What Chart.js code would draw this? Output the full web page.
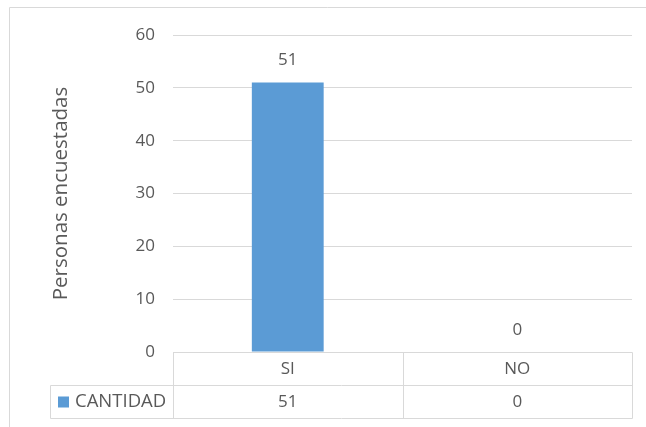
<!DOCTYPE html>
<html>
<head>
<meta charset="utf-8">
<script src="https://cdn.jsdelivr.net/npm/chart.js@4/dist/chart.umd.min.js"></script>
<style>
  html, body { margin: 0; padding: 0; background: #fff; }
  #wrap { width: 646px; height: 427px; position: relative; }
</style>
</head>
<body>
<div id="wrap"><canvas id="grafico"></canvas></div>
<script>
const categorias = ['SI', 'NO'];
const cantidad = [51, 0];
const serie = 'CANTIDAD';
const ticksY = [0, 10, 20, 30, 40, 50, 60];

const gris = '#595959';
const linea = '#d9d9d9';
const azul = '#5b9bd5';
const fuente = '"Open Sans", sans-serif';

// borde del grafico y tabla de datos abajo
const tablaDatos = {
    id: 'tablaDatos',
    beforeDraw(chart) {
        const ctx = chart.ctx;
        ctx.save();
        ctx.strokeStyle = linea;
        ctx.lineWidth = 1;
        ctx.beginPath();
        ctx.moveTo(9.5, 427);
        ctx.lineTo(9.5, 7.5);
        ctx.lineTo(646, 7.5);
        ctx.stroke();
        ctx.restore();
    },
    afterDraw(chart) {
        const ctx = chart.ctx;
        const x = chart.scales.x;
        const area = chart.chartArea;
        const fila = 33;
        const y0 = Math.round(area.bottom) + 0.5;
        const y1 = y0 + fila;
        const y2 = y1 + fila;
        const izq = Math.round(area.left) + 0.5;
        const der = Math.round(area.right) + 0.5;
        const leyIzq = 50.5;
        const mitad = Math.round((x.getPixelForValue(0) + x.getPixelForValue(1)) / 2) + 0.5;

        ctx.save();
        ctx.strokeStyle = linea;
        ctx.lineWidth = 1;
        ctx.beginPath();
        ctx.moveTo(izq, y0); ctx.lineTo(der, y0);
        ctx.moveTo(leyIzq, y1); ctx.lineTo(der, y1);
        ctx.moveTo(leyIzq, y2); ctx.lineTo(der, y2);
        ctx.moveTo(izq, y0); ctx.lineTo(izq, y2);
        ctx.moveTo(mitad, y0); ctx.lineTo(mitad, y2);
        ctx.moveTo(der, y0); ctx.lineTo(der, y2);
        ctx.moveTo(leyIzq, y1); ctx.lineTo(leyIzq, y2);
        ctx.stroke();

        ctx.fillStyle = gris;
        ctx.font = '17px ' + fuente;
        ctx.textAlign = 'center';
        ctx.textBaseline = 'middle';
        categorias.forEach((c, i) => {
            const px = x.getPixelForValue(i);
            ctx.fillText(c, px, y0 + fila / 2);
            ctx.fillText(String(cantidad[i]), px, y1 + fila / 2);
        });

        ctx.fillStyle = azul;
        ctx.fillRect(58, y1 + 11, 11, 11);
        ctx.fillStyle = gris;
        ctx.textAlign = 'left';
        ctx.font = '18.5px ' + fuente;
        ctx.fillText(serie, 75, y1 + fila / 2);
        ctx.restore();
    }
};

// etiquetas de valor encima de las barras
const etiquetas = {
    id: 'etiquetas',
    afterDatasetsDraw(chart) {
        const ctx = chart.ctx;
        const meta = chart.getDatasetMeta(0);
        ctx.save();
        ctx.fillStyle = gris;
        ctx.font = '17px ' + fuente;
        ctx.textAlign = 'center';
        ctx.textBaseline = 'middle';
        meta.data.forEach((bar, i) => {
            ctx.fillText(String(cantidad[i]), bar.x, bar.y - 22);
        });
        ctx.restore();
    }
};

const ctx = document.getElementById('grafico').getContext('2d');

new Chart(ctx, {
    type: 'bar',
    data: {
        labels: categorias,
        datasets: [{
            label: serie,
            data: cantidad,
            backgroundColor: azul,
            borderWidth: 0,
            categoryPercentage: 1,
            barPercentage: 0.313
        }]
    },
    options: {
        responsive: true,
        maintainAspectRatio: false,
        animation: false,
        layout: { padding: { top: 35, right: 14, bottom: 75, left: 0 } },
        plugins: {
            legend: { display: false },
            tooltip: { enabled: false }
        },
        scales: {
            x: { display: false },
            y: {
                min: 0,
                max: 60,
                afterBuildTicks: (scale) => {
                    scale.ticks = ticksY.map(v => ({ value: v }));
                },
                afterFit: (scale) => { scale.width = 173; },
                grid: { color: linea, drawTicks: false },
                border: { display: false },
                ticks: {
                    color: gris,
                    padding: 18,
                    font: { family: fuente, size: 17 }
                },
                title: {
                    display: true,
                    text: 'Personas encuestadas',
                    color: gris,
                    font: { family: fuente, size: 20.5 },
                    padding: { top: 49, bottom: 0 }
                }
            }
        }
    },
    plugins: [tablaDatos, etiquetas]
});
</script>
</body>
</html>
